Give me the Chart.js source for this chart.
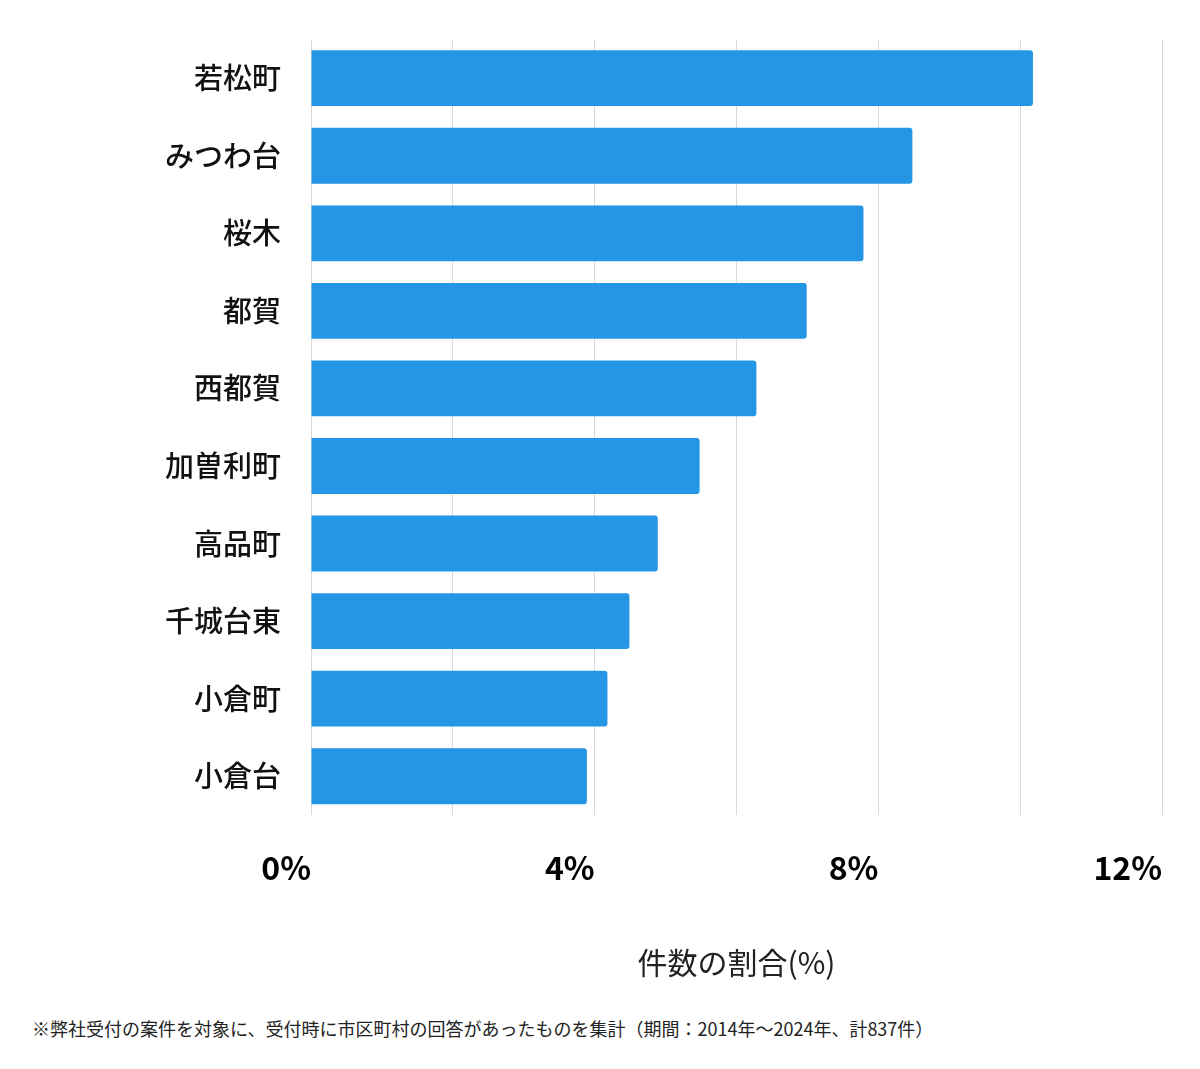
<!DOCTYPE html>
<html>
<head>
<meta charset="utf-8">
<script src="https://cdn.jsdelivr.net/npm/chart.js@4/dist/chart.umd.min.js"></script>
<style>
  body { margin: 0; background: #fff; font-family: 'Noto Sans CJK JP', sans-serif; }
  #wrap { position: relative; width: 1200px; height: 985px; }
  .note { position: absolute; left: 32px; top: 1015px; font-size: 18px; color: #222; }
</style>
</head>
<body>
<div id="wrap"><canvas id="chart"></canvas></div>
<div class="note">※弊社受付の案件を対象に、受付時に市区町村の回答があったものを集計（期間：2014年～2024年、計837件）</div>
<script>
const areas = ['若松町', 'みつわ台', '桜木', '都賀', '西都賀', '加曽利町', '高品町', '千城台東', '小倉町', '小倉台'];
const shares = [10.18, 8.48, 7.79, 6.99, 6.28, 5.48, 4.89, 4.49, 4.18, 3.89];
const tickValues = [0, 4, 8, 12];

const font = "'Noto Sans CJK JP', sans-serif";

new Chart(document.getElementById('chart'), {
  type: 'bar',
  data: {
    labels: areas,
    datasets: [{
      data: shares,
      backgroundColor: '#2596e6',
      borderRadius: 3,
      borderSkipped: 'start',
      barPercentage: 0.72,
      categoryPercentage: 1
    }]
  },
  options: {
    indexAxis: 'y',
    responsive: true,
    maintainAspectRatio: false,
    animation: false,
    layout: { padding: { top: 18, right: 38, left: 0, bottom: 0 } },
    plugins: { legend: { display: false }, tooltip: { enabled: false } },
    scales: {
      x: {
        min: 0, max: 12,
        afterFit: s => { s.height = 170; },
        afterBuildTicks: s => { s.ticks = [0, 2, 4, 6, 8, 10, 12].map(v => ({ value: v })); },
        grid: { color: '#d9d9d9', drawTicks: false },
        border: { display: false },
        ticks: {
          padding: 34,
          align: 'end',
          color: '#000',
          font: { family: font, size: 32, weight: 'bold' },
          callback: v => tickValues.includes(v) ? v + '%' : ''
        },
        title: {
          display: true,
          text: '件数の割合(%)',
          color: '#222',
          padding: { top: 22 },
          font: { family: font, size: 30 }
        }
      },
      y: {
        afterFit: s => { s.width = 311; },
        grid: { display: false },
        border: { display: false },
        ticks: {
          padding: 22,
          color: '#111',
          font: { family: font, size: 29, weight: '500' }
        }
      }
    }
  }
});
</script>
</body>
</html>
